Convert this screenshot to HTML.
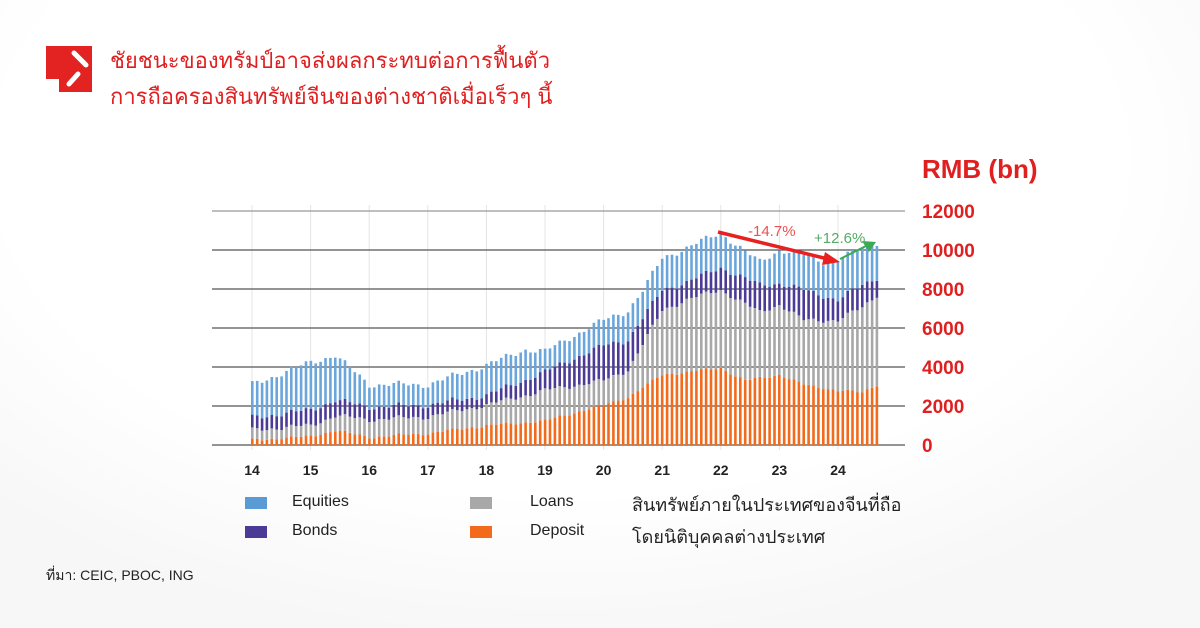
<!DOCTYPE html>
<html><head><meta charset="utf-8">
<style>
body{margin:0;width:1200px;height:628px;overflow:hidden;background:#fff;font-family:"Liberation Sans","DejaVu Sans",sans-serif;position:relative}
.bg{position:absolute;inset:0;background:radial-gradient(ellipse 800px 480px at 560px 160px,#fff 70%,#f7f7f7 100%)}
.t{position:absolute;left:110px;color:#e02020;font-size:22px;line-height:34px}
.logo{position:absolute;left:46px;top:46px;width:46px;height:46px;background:#e32222}
.leg{position:absolute;font-size:16px;color:#222}
.sw{position:absolute;width:22px;height:12px}
</style></head><body>
<div class="bg"></div>
<div class="logo"><svg width="46" height="46"><line x1="28" y1="7" x2="40" y2="19" stroke="#fff" stroke-width="5" stroke-linecap="round"/><line x1="32" y1="28" x2="23" y2="38" stroke="#fff" stroke-width="5" stroke-linecap="round"/><rect x="0" y="33" width="13" height="13" fill="#fff"/></svg></div>
<div class="t" style="top:44px">ชัยชนะของทรัมป์อาจส่งผลกระทบต่อการฟื้นตัว</div>
<div class="t" style="top:80px">การถือครองสินทรัพย์จีนของต่างชาติเมื่อเร็วๆ นี้</div>
<svg id="ch" width="1200" height="628" style="position:absolute;left:0;top:0">
<g stroke="#e4e4e4" stroke-width="1" id="vg"></g>
<g stroke="#555" stroke-width="1.2">
<line x1="212" y1="211" x2="905" y2="211" stroke="#999"/>
<line x1="212" y1="250" x2="905" y2="250"/>
<line x1="212" y1="289" x2="905" y2="289"/>
<line x1="212" y1="328" x2="905" y2="328"/>
<line x1="212" y1="367" x2="905" y2="367"/>
<line x1="212" y1="406" x2="905" y2="406"/>
<line x1="212" y1="445" x2="905" y2="445"/>
</g>
<g id="bars"></g>
<g fill="#e02020" font-weight="bold" font-size="19" font-family="Liberation Sans,sans-serif">
<text x="922" y="218">12000</text><text x="922" y="257">10000</text><text x="922" y="296">8000</text><text x="922" y="335">6000</text><text x="922" y="374">4000</text><text x="922" y="413">2000</text><text x="922" y="452">0</text>
<text x="922" y="178" font-size="26">RMB (bn)</text>
</g>
<g font-size="14" font-weight="bold" fill="#222" text-anchor="middle" id="yl"></g>
<line x1="718" y1="232" x2="828" y2="259" stroke="#e82020" stroke-width="3.5"/>
<polygon points="840,262 825,252 822,265" fill="#e82020"/>
<line x1="840" y1="259" x2="866" y2="246" stroke="#3caa55" stroke-width="2"/>
<polygon points="876,242 862,241 869,252" fill="#3caa55"/>
<text x="748" y="236" fill="#ee5050" font-size="15">-14.7%</text>
<text x="814" y="243" fill="#55aa66" font-size="15">+12.6%</text>
</svg>
<div class="sw" style="left:245px;top:497px;background:#5b9bd5"></div><div class="leg" style="left:292px;top:493px">Equities</div>
<div class="sw" style="left:245px;top:526px;background:#4b3b96"></div><div class="leg" style="left:292px;top:522px">Bonds</div>
<div class="sw" style="left:470px;top:497px;background:#a8a8a8"></div><div class="leg" style="left:530px;top:493px">Loans</div>
<div class="sw" style="left:470px;top:526px;background:#f26b1d"></div><div class="leg" style="left:530px;top:522px">Deposit</div>
<div class="leg" style="left:632px;top:490px;font-size:18px">สินทรัพย์ภายในประเทศของจีนที่ถือ</div>
<div class="leg" style="left:632px;top:522px;font-size:18px">โดยนิติบุคคลต่างประเทศ</div>
<div class="leg" style="left:46px;top:565px;font-size:14px">ที่มา: CEIC, PBOC, ING</div>
<script>
function interp(k,m){for(var i=0;i<k.length-1;i++){if(m>=k[i][0]&&m<=k[i+1][0]){var t=(m-k[i][0])/(k[i+1][0]-k[i][0]);return k[i][1]+t*(k[i+1][1]-k[i][1]);}}return k[k.length-1][1];}
function M(y,mo){return (y-14)*12+mo-1;}
var T=[[M(14,1),3100],[M(15,1),4250],[M(15,6),4600],[M(15,9),3950],[M(16,1),3100],[M(17,1),3100],[M(18,1),4100],[M(18,9),4900],[M(19,1),4800],[M(19,6),5500],[M(20,1),6400],[M(20,6),6900],[M(20,9),7900],[M(21,1),9600],[M(21,6),10100],[M(22,1),10900],[M(22,6),9900],[M(22,9),9400],[M(23,1),10000],[M(23,6),9750],[M(23,10),9400],[M(24,1),9500],[M(24,6),10100],[M(24,9),10400]];
var B=[[M(14,1),1400],[M(15,1),1800],[M(15,6),2300],[M(16,1),1950],[M(17,1),2050],[M(18,1),2550],[M(19,1),3750],[M(19,6),4350],[M(20,1),5100],[M(20,6),5400],[M(21,1),7950],[M(21,6),8350],[M(22,1),9100],[M(22,9),8200],[M(23,1),8300],[M(23,6),7950],[M(24,1),7450],[M(24,6),8200],[M(24,9),8600]];
var L=[[M(14,1),770],[M(15,1),1000],[M(15,6),1500],[M(16,1),1300],[M(17,1),1450],[M(18,1),2050],[M(19,1),2800],[M(20,1),3300],[M(20,6),3850],[M(21,1),6900],[M(21,6),7450],[M(22,1),7950],[M(22,9),6800],[M(23,1),7200],[M(23,6),6400],[M(24,1),6400],[M(24,6),7050],[M(24,9),7700]];
var D=[[M(14,1),250],[M(15,1),450],[M(15,6),750],[M(16,1),400],[M(17,1),600],[M(18,1),1000],[M(19,1),1250],[M(20,1),2050],[M(20,6),2450],[M(21,1),3600],[M(22,1),3950],[M(22,6),3300],[M(23,1),3600],[M(23,6),3100],[M(24,1),2800],[M(24,6),2700],[M(24,9),3100]];
var g=document.getElementById('bars'),s='',y0=445,k=39/2000;
function nz(i,a){return Math.sin(i*1.7+a)*0.5+Math.sin(i*0.61+a*2)*0.5;}
for(var i=0;i<129;i++){var x=251+i*4.88,w=2.6;
var d=interp(D,i)+nz(i,1)*90,l=interp(L,i)+nz(i,1)*150,b=interp(B,i)+nz(i,1)*180,t=interp(T,i)+nz(i,1)*200;
var v=[[0,d,'#f26b1d'],[d,l,'#a8a8a8'],[l,b,'#4b3b96'],[b,t,'#6aa6dc']];
v.forEach(function(q){s+='<rect x="'+x.toFixed(1)+'" y="'+(y0-q[1]*k).toFixed(1)+'" width="'+w+'" height="'+((q[1]-q[0])*k).toFixed(1)+'" fill="'+q[2]+'"/>';});}
g.innerHTML=s;
var yl='',vg='';for(var j=0;j<11;j++){var xx=252+j*58.6;yl+='<text x="'+xx+'" y="475">'+(14+j)+'</text>';vg+='<line x1="'+xx+'" y1="205" x2="'+xx+'" y2="450"/>';}
document.getElementById('yl').innerHTML=yl;document.getElementById('vg').innerHTML=vg;
</script>
</body></html>
